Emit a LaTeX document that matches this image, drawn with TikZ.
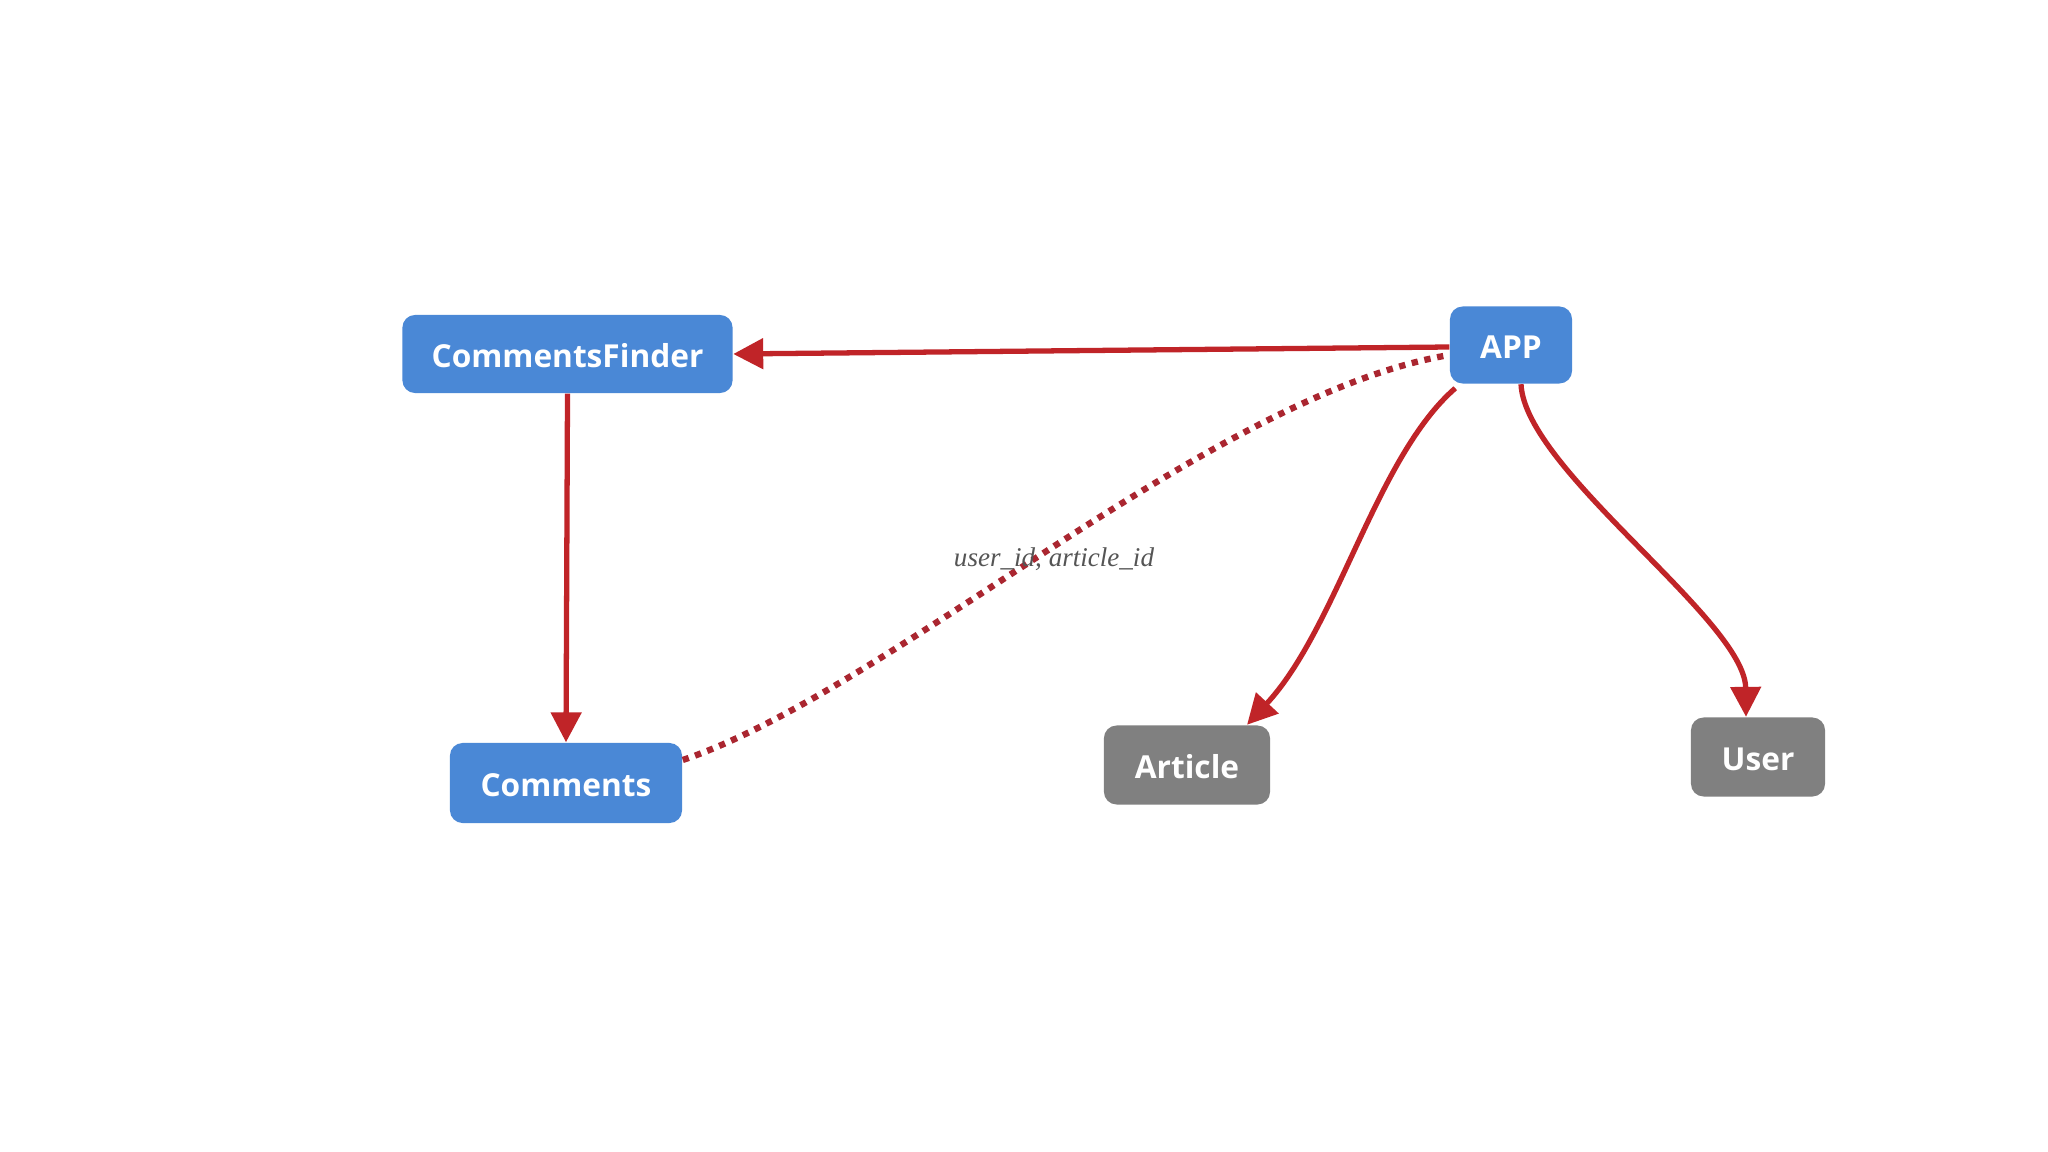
\documentclass[tikz,border=0pt]{standalone}
\usepackage{fontspec}
\newfontfamily\boxfont{Open Sans}
\newfontfamily\labfont{Liberation Serif}
\usetikzlibrary{arrows.meta}
\definecolor{boxblue}{RGB}{74,136,214}
\definecolor{boxgrey}{RGB}{128,128,128}
\definecolor{arrred}{RGB}{192,36,40}
\definecolor{dotred}{RGB}{170,38,48}
\definecolor{labgrey}{RGB}{85,85,85}
\tikzset{
  box/.style={rectangle, rounded corners=3.6pt, inner sep=0pt, text=white,
    text height=7.9pt, text depth=0pt,
    font=\boxfont\bfseries\fontsize{9}{11}\selectfont},
  bluebox/.style={box, fill=boxblue},
  greybox/.style={box, fill=boxgrey},
  arr/.style={draw=arrred, line width=1.5pt, -{Triangle[length=8.5pt,width=8.5pt]}},
  dotline/.style={draw=dotred, line width=1.8pt, dash pattern=on 1.8pt off 1.9pt},
  lab/.style={text=labgrey, font=\labfont\itshape\fontsize{7.7}{9}\selectfont, inner sep=0pt}
}
\begin{document}
\begin{tikzpicture}[x=0.01cm, y=-0.01cm]
\useasboundingbox (0,0) rectangle (2048,1152);
\fill[white] (0,0) rectangle (2048,1152);
\node[bluebox, minimum width=3.30cm, minimum height=0.78cm] (cf) at (567.5,354) {CommentsFinder};
\node[bluebox, minimum width=1.22cm, minimum height=0.77cm] (app) at (1511,345) {APP};
\node[bluebox, minimum width=2.32cm, minimum height=0.80cm] (com) at (566,783) {Comments};
\node[greybox, minimum width=1.66cm, minimum height=0.79cm] (art) at (1187,765) {Article};
\node[greybox, minimum width=1.34cm, minimum height=0.79cm] (usr) at (1758,757) {User};
\coordinate (appw) at ([yshift=-0.02cm]app.west);
\coordinate (appsw) at ([xshift=0.06cm,yshift=-0.04cm]app.south west);
\coordinate (apps) at ([xshift=0.10cm]app.south);
\coordinate (artn) at ([xshift=0.60cm]art.north);
\coordinate (usrn) at ([xshift=-0.12cm]usr.north);
\coordinate (comr) at ([yshift=0.23cm]com.east);
\coordinate (appdl) at ([yshift=-0.10cm]app.west);
\draw[arr] (appw) -- (cf.east);
\draw[arr] (cf.south) -- (com.north);
\draw[arr] (appsw) .. controls (1376,457) and (1337,628) .. (artn);
\draw[arr] (apps) .. controls (1525,470) and (1745,620) .. (usrn);
\draw[dotline] (comr) .. controls (890,690) and (1210,395) .. (appdl);
\node[lab] (lbl) at (1054,559) {user\_id, article\_id};
\end{tikzpicture}
\end{document}
